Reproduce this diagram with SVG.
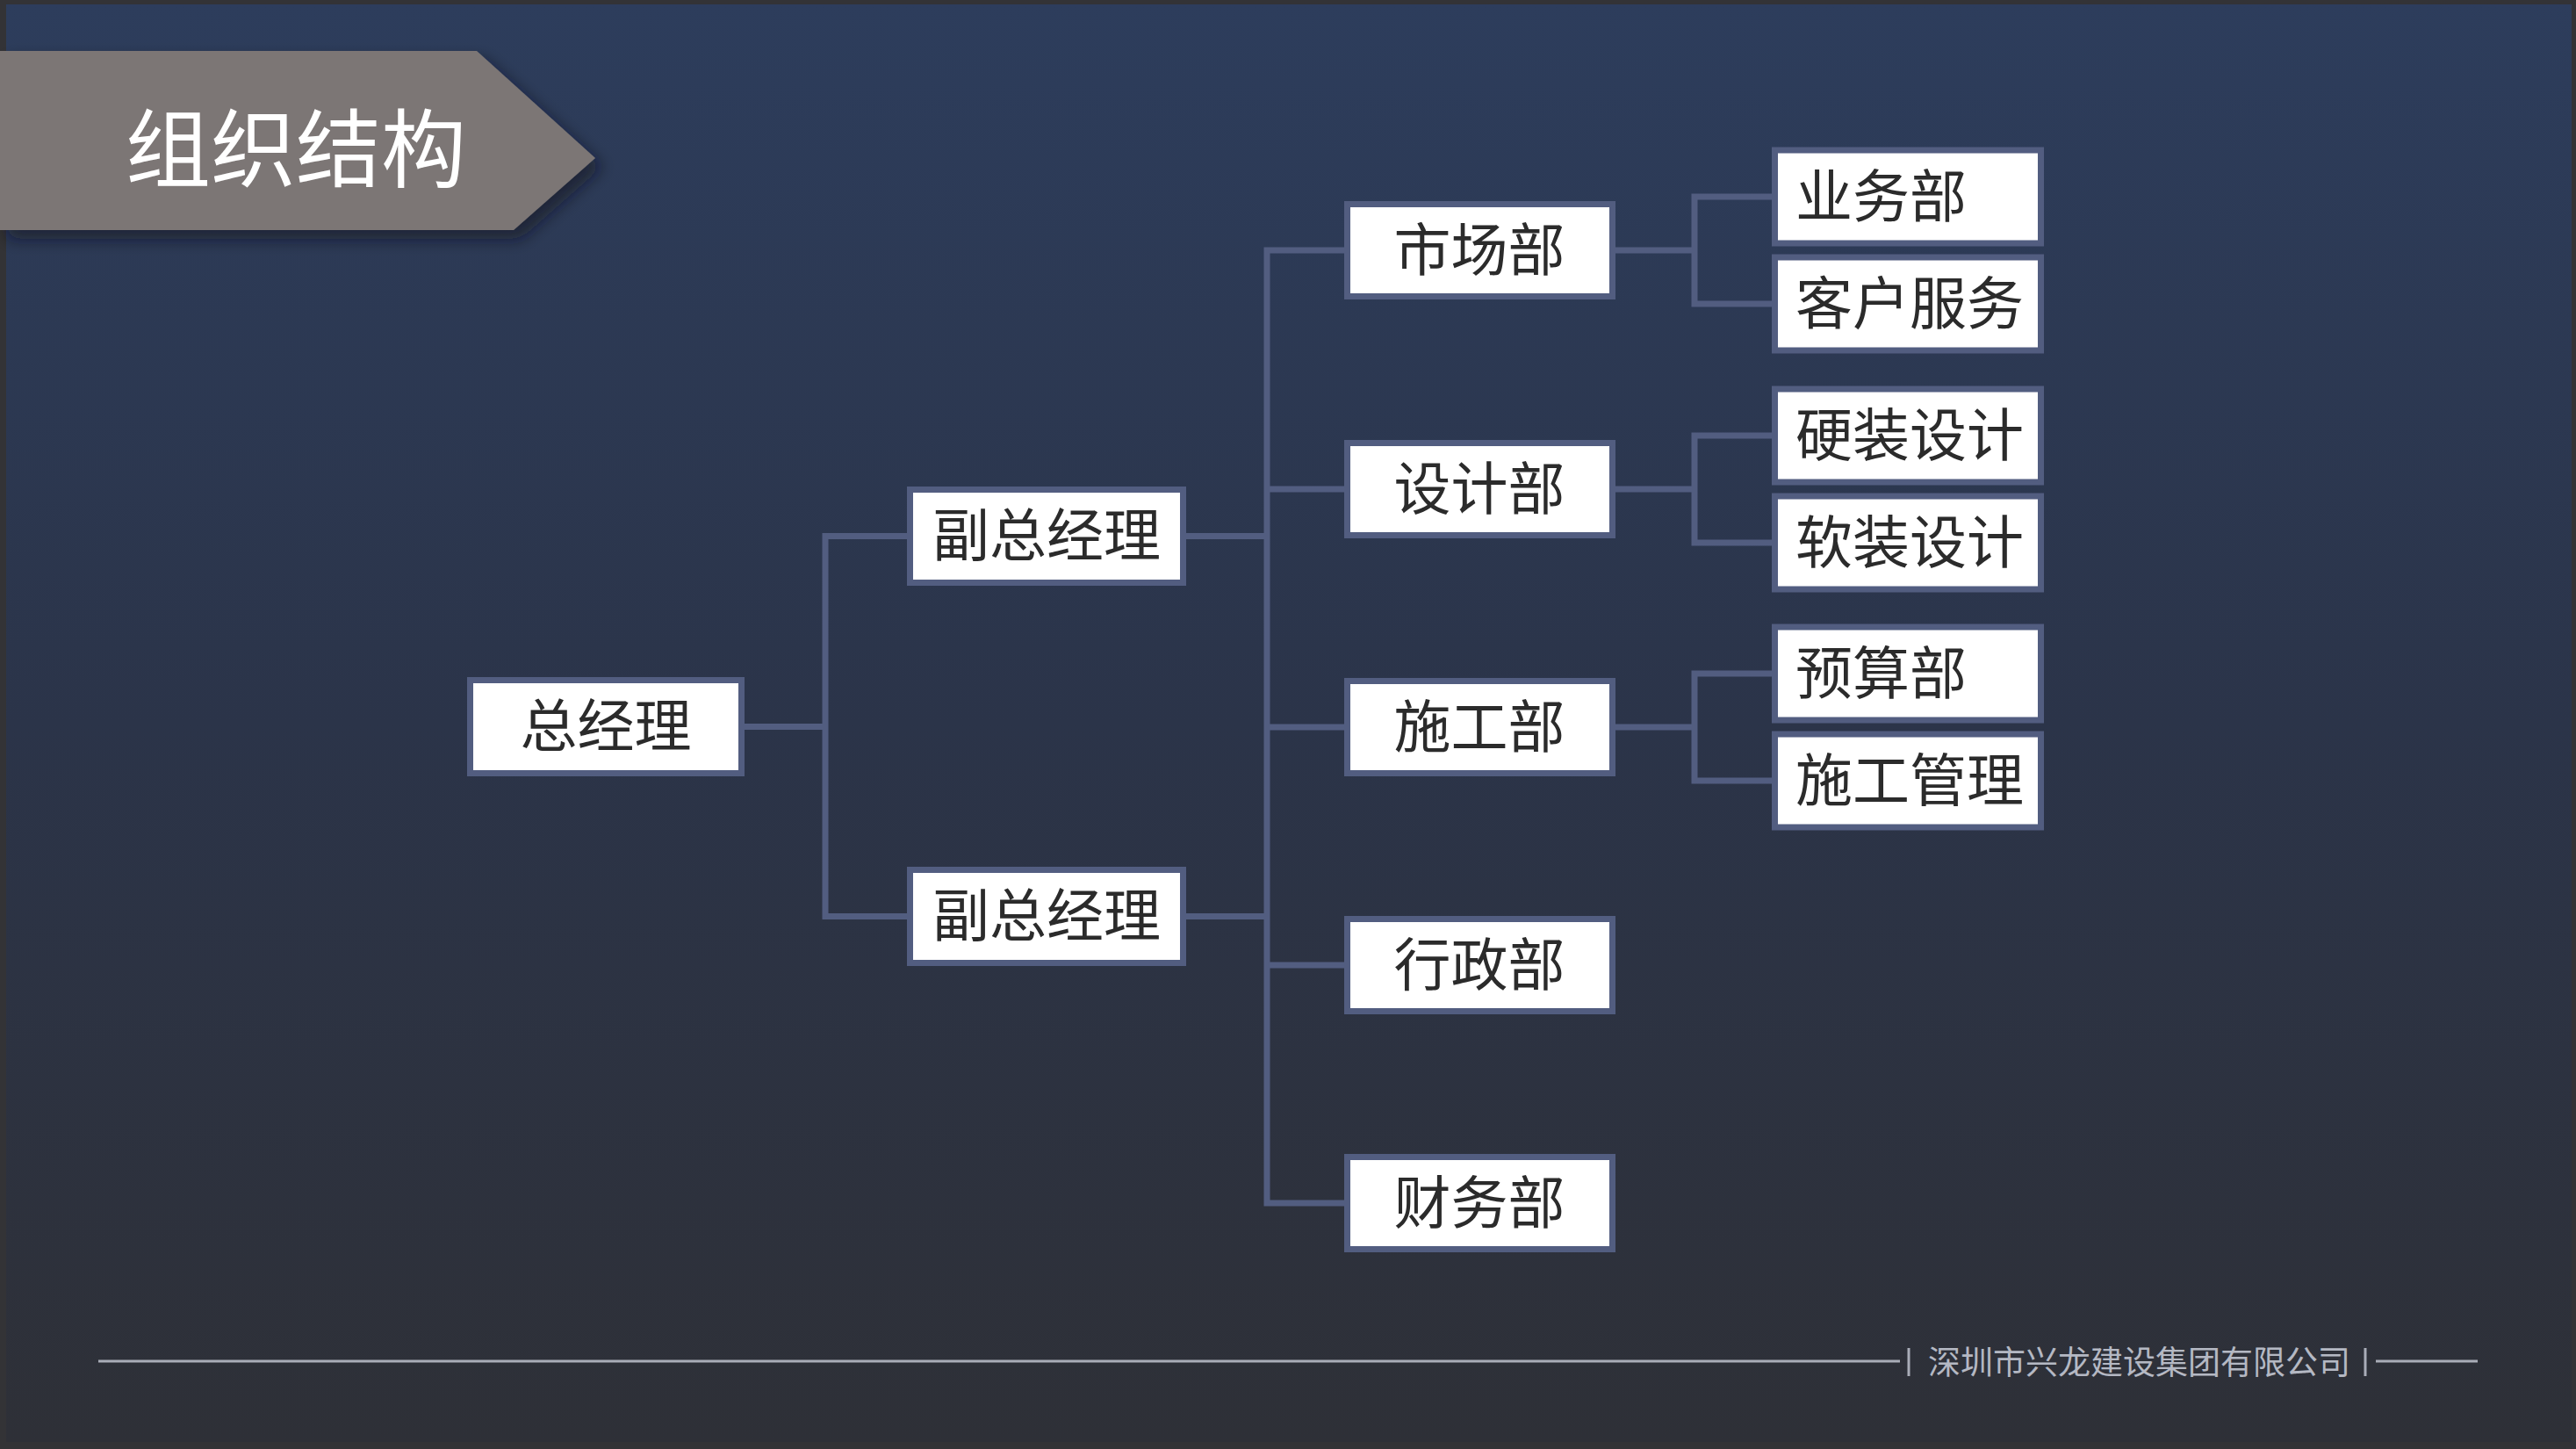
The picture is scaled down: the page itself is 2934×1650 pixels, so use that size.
<svg xmlns="http://www.w3.org/2000/svg" width="2934" height="1650" viewBox="0 0 2934 1650">
<defs>
<linearGradient id="bg" x1="0" y1="0" x2="0" y2="1">
<stop offset="0" stop-color="#2d3d5c"/>
<stop offset="0.5" stop-color="#2b3449"/>
<stop offset="1" stop-color="#2e3037"/>
</linearGradient>
<filter id="sh" x="-10%" y="-20%" width="130%" height="160%">
<feDropShadow dx="8" dy="10" stdDeviation="9" flood-color="#101522" flood-opacity="0.6"/>
</filter>
<style>
.box{fill:#ffffff;stroke:#525d80;stroke-width:7}
.lbl{font-family:"Noto Sans CJK SC","Noto Sans CJK TC",sans-serif;font-size:65px;fill:#2b2b2b;dominant-baseline:central}
.c{text-anchor:middle}
.conn{fill:none;stroke:#525d80;stroke-width:7;stroke-linejoin:miter;stroke-linecap:square}
.foot{stroke:#a9adb8;stroke-width:3}
</style>
</defs>
<rect x="0" y="0" width="2934" height="1650" fill="#333336"/>
<rect x="7" y="5" width="2922" height="1637" fill="url(#bg)"/>

<g id="banner">
<polygon points="0,58 543,58 678,180 585,262 0,262" fill="#7c7675" filter="url(#sh)"/>
<text x="143" y="162" font-family="Noto Sans CJK SC, sans-serif" font-size="97" fill="#ffffff" dominant-baseline="central">组织结构</text>
</g>

<g id="connectors">
<path class="conn" d="M848,827.5 H940 M940,610.5 V1043.5 M940,610.5 H1034 M940,1043.5 H1034"/>
<path class="conn" d="M1351,610.5 H1443 M1351,1043.5 H1443 M1443,285 V1370 M1443,285 H1531 M1443,557 H1531 M1443,828 H1531 M1443,1099 H1531 M1443,1370 H1531"/>
<path class="conn" d="M1840,285 H1930 M1930,224 V346 M1930,224 H2018 M1930,346 H2018"/>
<path class="conn" d="M1840,557 H1930 M1930,496 V618 M1930,496 H2018 M1930,618 H2018"/>
<path class="conn" d="M1840,828 H1930 M1930,767 V889 M1930,767 H2018 M1930,889 H2018"/>
</g>

<g id="n-gm"><rect class="box" x="535.5" y="774.5" width="309" height="106"/><text class="lbl c" x="690" y="822">总经理</text></g>
<g id="n-vp1"><rect class="box" x="1036.5" y="557.5" width="311" height="106"/><text class="lbl c" x="1192" y="605">副总经理</text></g>
<g id="n-vp2"><rect class="box" x="1036.5" y="990.5" width="311" height="106"/><text class="lbl c" x="1192" y="1038">副总经理</text></g>

<g id="n-market"><rect class="box" x="1534.5" y="232.5" width="302" height="105"/><text class="lbl c" x="1685" y="280">市场部</text></g>
<g id="n-design"><rect class="box" x="1534.5" y="504.5" width="302" height="105"/><text class="lbl c" x="1685" y="552">设计部</text></g>
<g id="n-build"><rect class="box" x="1534.5" y="775.5" width="302" height="105"/><text class="lbl c" x="1685" y="823">施工部</text></g>
<g id="n-admin"><rect class="box" x="1534.5" y="1046.5" width="302" height="105"/><text class="lbl c" x="1685" y="1094">行政部</text></g>
<g id="n-finance"><rect class="box" x="1534.5" y="1317.5" width="302" height="105"/><text class="lbl c" x="1685" y="1365">财务部</text></g>

<g id="n-biz"><rect class="box" x="2021.5" y="171" width="303" height="106"/><text class="lbl" x="2045" y="219">业务部</text></g>
<g id="n-cs"><rect class="box" x="2021.5" y="293" width="303" height="106"/><text class="lbl" x="2045" y="341">客户服务</text></g>
<g id="n-hard"><rect class="box" x="2021.5" y="443" width="303" height="106"/><text class="lbl" x="2045" y="491">硬装设计</text></g>
<g id="n-soft"><rect class="box" x="2021.5" y="565" width="303" height="106"/><text class="lbl" x="2045" y="613">软装设计</text></g>
<g id="n-budget"><rect class="box" x="2021.5" y="714" width="303" height="106"/><text class="lbl" x="2045" y="762">预算部</text></g>
<g id="n-site"><rect class="box" x="2021.5" y="836" width="303" height="106"/><text class="lbl" x="2045" y="884">施工管理</text></g>

<g id="footer">
<line class="foot" x1="112" y1="1550" x2="2164" y2="1550"/>
<line class="foot" x1="2174" y1="1535" x2="2174" y2="1567"/>
<text x="2196" y="1549" font-family="Noto Sans CJK SC, sans-serif" font-size="37" fill="#b4b8c3" dominant-baseline="central">深圳市兴龙建设集团有限公司</text>
<line class="foot" x1="2694" y1="1535" x2="2694" y2="1567"/>
<line class="foot" x1="2706" y1="1550" x2="2822" y2="1550"/>
</g>
</svg>
